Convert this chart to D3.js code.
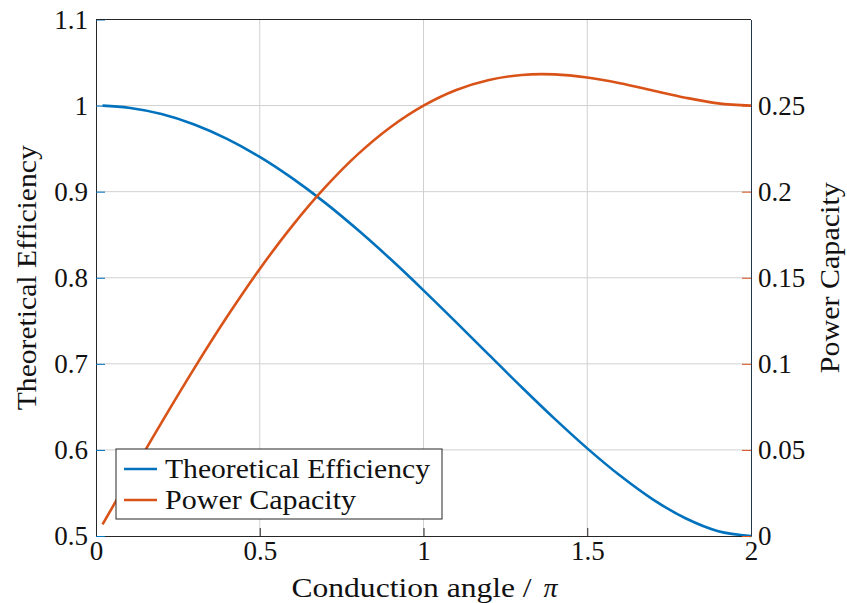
<!DOCTYPE html>
<html>
<head>
<meta charset="utf-8">
<script src="https://cdn.jsdelivr.net/npm/d3@7"></script>
<style>
  body { margin: 0; background: #fff; }
  svg { display: block; font-family: "Liberation Serif", "DejaVu Serif", serif; }
</style>
</head>
<body>
<div id="chart"></div>
<script>
// conduction angle (in units of pi)
const angle = [0.02, 0.1, 0.2, 0.3, 0.4, 0.5, 0.6, 0.7, 0.8, 0.9, 1.0,
    1.1, 1.2, 1.3, 1.4, 1.5, 1.6, 1.7, 1.8, 1.9, 2.0];
const efficiency = [0.9999, 0.9975, 0.9902, 0.9781, 0.9614, 0.9404, 0.9154, 0.8870, 0.8554, 0.8214, 0.7854,
    0.7482, 0.7104, 0.6728, 0.6363, 0.6018, 0.5702, 0.5426, 0.5206, 0.5056, 0.5000];
const powerCapacity = [0.0067, 0.0332, 0.0659, 0.0974, 0.1273, 0.1551, 0.1803, 0.2026, 0.2218, 0.2376, 0.2500,
    0.2591, 0.2649, 0.2678, 0.2681, 0.2663, 0.2630, 0.2588, 0.2546, 0.2513, 0.2500];
const xTicks = [0, 0.5, 1, 1.5, 2];
const leftTicks = [0.5, 0.6, 0.7, 0.8, 0.9, 1, 1.1];
const rightTicks = [0, 0.05, 0.1, 0.15, 0.2, 0.25];
const seriesNames = ["Theoretical Efficiency", "Power Capacity"];
const xTitle = "Conduction angle / ";
const colors = ["#0072BD", "#D95319"];

const width = 847, height = 603;
const margin = { top: 19.5, right: 96, bottom: 67, left: 96 };
const tickFont = 27;
const labelFont = 28;
// label widths so the serif fallback spans like the TeX font
const labelWidth = { "Theoretical Efficiency": 265, "Power Capacity": 191, [xTitle]: 264 };

const svg = d3.select("#chart").append("svg")
    .attr("width", width)
    .attr("height", height);

const x = d3.scaleLinear().domain([0, 2]).range([margin.left, width - margin.right]);
const yL = d3.scaleLinear().domain([0.5, 1.1]).range([height - margin.bottom, margin.top]);
const yR = d3.scaleLinear().domain([0, 0.3]).range([height - margin.bottom, margin.top]);

// grid
const grid = svg.append("g").attr("stroke", "#d0d0d0").attr("stroke-width", 1);
grid.selectAll(".gx").data(xTicks.slice(1, -1)).join("line")
    .attr("x1", d => x(d)).attr("x2", d => x(d))
    .attr("y1", yL(0.5)).attr("y2", yL(1.1));
grid.selectAll(".gy").data(leftTicks.slice(1, -1)).join("line")
    .attr("x1", x(0)).attr("x2", x(2))
    .attr("y1", d => yL(d)).attr("y2", d => yL(d));

// series
const pts = (vals) => angle.map((a, i) => [a, vals[i]]);
const lineL = d3.line().x(d => x(d[0])).y(d => yL(d[1])).curve(d3.curveCatmullRom.alpha(0.5));
const lineR = d3.line().x(d => x(d[0])).y(d => yR(d[1])).curve(d3.curveCatmullRom.alpha(0.5));

svg.append("path").datum(pts(efficiency))
    .attr("fill", "none").attr("stroke", colors[0]).attr("stroke-width", 2.6)
    .attr("d", lineL);
svg.append("path").datum(pts(powerCapacity))
    .attr("fill", "none").attr("stroke", colors[1]).attr("stroke-width", 2.6)
    .attr("d", lineR);

// axes: inward ticks
const fmt = d3.format("~g");
const xAxis = svg.append("g")
    .attr("transform", `translate(0,${yL(0.5)})`)
    .call(d3.axisBottom(x).tickValues(xTicks).tickSizeInner(-8).tickSizeOuter(0).tickPadding(5).tickFormat(fmt));
const leftAxis = svg.append("g")
    .attr("transform", `translate(${x(0)},0)`)
    .call(d3.axisLeft(yL).tickValues(leftTicks).tickSizeInner(-9).tickSizeOuter(0).tickPadding(8).tickFormat(fmt));
const rightAxis = svg.append("g")
    .attr("transform", `translate(${x(2)},0)`)
    .call(d3.axisRight(yR).tickValues(rightTicks).tickSizeInner(-9).tickSizeOuter(0).tickPadding(7).tickFormat(fmt));

[xAxis, leftAxis, rightAxis].forEach(a => {
    a.attr("font-family", null).attr("font-size", tickFont);
    a.selectAll("text").attr("fill", "#111");
    a.select(".domain").attr("stroke", "#262626");
});
xAxis.selectAll(".tick line").attr("stroke", "#262626");
leftAxis.selectAll(".tick line").attr("stroke", colors[0]);
rightAxis.selectAll(".tick line").attr("stroke", colors[1]);
rightAxis.select(".domain").attr("stroke", "#24364a");

// top border
svg.append("line")
    .attr("x1", x(0)).attr("x2", x(2)).attr("y1", yL(1.1)).attr("y2", yL(1.1))
    .attr("stroke", "#262626");

// axis titles
const title = (sel, text) => sel
    .attr("font-size", labelFont).attr("fill", "#111")
    .attr("textLength", labelWidth[text]).attr("lengthAdjust", "spacingAndGlyphs")
    .text(text);
const xLabel = svg.append("text")
    .attr("x", (x(0) + x(2)) / 2 - labelWidth[xTitle] / 2).attr("y", 597)
    .attr("font-size", labelFont).attr("fill", "#111");
xLabel.append("tspan")
    .attr("textLength", labelWidth[xTitle] - 16).attr("lengthAdjust", "spacingAndGlyphs")
    .text(xTitle);
xLabel.append("tspan").attr("font-style", "italic").attr("dx", 4).text("π");

const midY = (yL(0.5) + yL(1.1)) / 2;
svg.append("text")
    .attr("transform", `translate(36,${midY + labelWidth[seriesNames[0]] / 2}) rotate(-90)`)
    .call(title, seriesNames[0]);
svg.append("text")
    .attr("transform", `translate(839,${midY + labelWidth[seriesNames[1]] / 2}) rotate(-90)`)
    .call(title, seriesNames[1]);

// legend
const legend = svg.append("g").attr("transform", "translate(116,449)");
legend.append("rect")
    .attr("width", 326).attr("height", 70)
    .attr("fill", "#fff").attr("stroke", "#262626").attr("stroke-width", 1);
const item = legend.selectAll(".item").data(seriesNames).join("g")
    .attr("transform", (d, i) => `translate(0,${20 + i * 31})`);
item.append("line")
    .attr("x1", 8).attr("x2", 41)
    .attr("stroke", (d, i) => colors[i]).attr("stroke-width", 2.6);
item.append("text")
    .attr("x", 49).attr("dy", "0.32em")
    .each(function (d) { d3.select(this).call(title, d); });
</script>
</body>
</html>
